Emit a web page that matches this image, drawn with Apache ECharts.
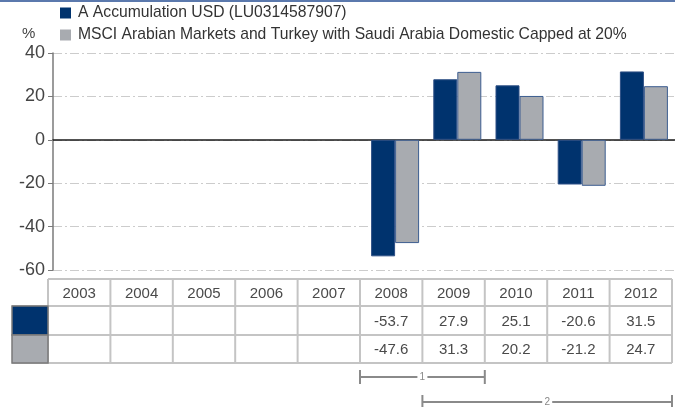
<!DOCTYPE html>
<html>
<head>
<meta charset="utf-8">
<script src="https://cdn.jsdelivr.net/npm/echarts@6/dist/echarts.min.js"></script>
<style>
  html, body { margin: 0; padding: 0; background: #fff; }
  #chart { width: 675px; height: 407px; }
</style>
</head>
<body>
<div id="chart"></div>
<script>
// Calendar years shown along the axis and in the table
const years = ['2003', '2004', '2005', '2006', '2007', '2008', '2009', '2010', '2011', '2012'];
// Annual performance, % (null = no figure for that year)
const fundReturns = [null, null, null, null, null, -53.7, 27.9, 25.1, -20.6, 31.5];
const indexReturns = [null, null, null, null, null, -47.6, 31.3, 20.2, -21.2, 24.7];
const seriesNames = [
  'A Accumulation USD (LU0314587907)',
  'MSCI Arabian Markets and Turkey with Saudi Arabia Domestic Capped at 20%'
];
// Y axis range and step
const yMin = -60, yMax = 40, yStep = 20;
// Period brackets under the table
const periods = [
  { label: '1', from: '2008', to: '2009' },
  { label: '2', from: '2009', to: '2012' }
];

const NAVY = '#00336e';
const GREY = '#a8abb0';
const FONT = 'Liberation Sans, Arial, sans-serif';

const chart = echarts.init(document.getElementById('chart'), null, { renderer: 'canvas' });

// Table geometry
const tLeft = 48, tRight = 672;
const colW = (tRight - tLeft) / years.length;
const rowY = [279, 306, 335, 363];
const keyLeft = 12;
const gridColor = '#c4c4c4';

const fmt = v => (v === null ? '' : v.toFixed(1));
const graphics = [];

// top rule
graphics.push({ type: 'rect', shape: { x: 0, y: 0, width: 675, height: 2 }, style: { fill: '#5b79ad' }, silent: true });

// "%" unit label
graphics.push({ type: 'text', left: 22, top: 26, style: { text: '%', font: '15px ' + FONT, fill: '#444' } });

// table cell texts
const rows = [years, fundReturns.map(fmt), indexReturns.map(fmt)];
rows.forEach((row, r) => {
  row.forEach((txt, c) => {
    graphics.push({
      type: 'text',
      x: tLeft + colW * (c + 0.5),
      y: (rowY[r] + rowY[r + 1]) / 2 + 1,
      style: { text: txt, font: '15px ' + FONT, fill: '#4a4a4a', align: 'center', verticalAlign: 'middle' },
      silent: true
    });
  });
});

// table grid: horizontal rules
graphics.push({ type: 'line', shape: { x1: tLeft, y1: rowY[0], x2: tRight, y2: rowY[0] }, style: { stroke: gridColor, lineWidth: 2 } });
for (let r = 1; r < rowY.length; r++) {
  graphics.push({ type: 'line', shape: { x1: keyLeft, y1: rowY[r], x2: tRight, y2: rowY[r] }, style: { stroke: gridColor, lineWidth: 2 } });
}
// table grid: vertical rules
for (let c = 0; c <= years.length; c++) {
  const x = tLeft + colW * c;
  graphics.push({ type: 'line', shape: { x1: x, y1: rowY[0], x2: x, y2: rowY[3] }, style: { stroke: gridColor, lineWidth: 2 } });
}
// series key cells
[NAVY, GREY].forEach((col, i) => {
  graphics.push({
    type: 'rect',
    shape: { x: keyLeft, y: rowY[i + 1], width: tLeft - keyLeft, height: rowY[i + 2] - rowY[i + 1] },
    style: { fill: col, stroke: '#7a7a7a', lineWidth: 1.5 }
  });
});

// period brackets
const bracketY = [377, 402];
periods.forEach((p, i) => {
  const x1 = tLeft + colW * years.indexOf(p.from);
  const x2 = tLeft + colW * (years.indexOf(p.to) + 1);
  const y = bracketY[i];
  const mid = (x1 + x2) / 2;
  const stroke = { stroke: '#8a8a8a', lineWidth: 2 };
  graphics.push({ type: 'line', shape: { x1: x1, y1: y, x2: mid - 5, y2: y }, style: stroke });
  graphics.push({ type: 'line', shape: { x1: mid + 5, y1: y, x2: x2, y2: y }, style: stroke });
  graphics.push({ type: 'line', shape: { x1: x1, y1: y - 7, x2: x1, y2: y + 7 }, style: stroke });
  graphics.push({ type: 'line', shape: { x1: x2, y1: y - 7, x2: x2, y2: y + 7 }, style: stroke });
  graphics.push({
    type: 'text', x: mid, y: y,
    style: { text: p.label, font: '10px ' + FONT, fill: '#888', align: 'center', verticalAlign: 'middle' }
  });
});

const option = {
  animation: false,
  backgroundColor: '#fff',
  textStyle: { fontFamily: FONT },
  legend: {
    orient: 'vertical',
    left: 60,
    top: 5,
    padding: 0,
    itemWidth: 11,
    itemHeight: 11,
    itemGap: 6,
    icon: 'rect',
    itemStyle: { borderWidth: 0 },
    textStyle: { fontSize: 15.7, color: '#333', fontFamily: FONT, padding: [0, 0, 0, 2] },
    data: seriesNames
  },
  grid: { left: 53, right: 0, top: 53, bottom: 137, containLabel: false },
  xAxis: {
    type: 'category',
    data: years,
    axisLine: { show: true, onZero: true, lineStyle: { color: '#1a1a1a', width: 1.5 } },
    axisTick: { show: false },
    axisLabel: { show: false },
    splitLine: { show: false }
  },
  yAxis: {
    type: 'value',
    min: yMin,
    max: yMax,
    interval: yStep,
    axisLine: { show: true, lineStyle: { color: '#7a7a7a', width: 1.5 } },
    axisTick: { show: true, length: 5, lineStyle: { color: '#7a7a7a' } },
    axisLabel: { fontSize: 18, color: '#444', margin: 8, fontFamily: FONT },
    splitLine: { show: true, lineStyle: { color: '#cccccc', width: 1, type: [9, 3, 2, 3] } }
  },
  series: [
    {
      name: seriesNames[0],
      type: 'bar',
      data: fundReturns,
      barWidth: 24,
      barGap: '0%',
      itemStyle: { color: NAVY, borderColor: '#2d4f85', borderWidth: 1 }
    },
    {
      name: seriesNames[1],
      type: 'bar',
      data: indexReturns,
      barWidth: 24,
      itemStyle: { color: GREY, borderColor: '#3c5d90', borderWidth: 1 }
    }
  ],
  graphic: graphics
};

chart.setOption(option);
</script>
</body>
</html>
